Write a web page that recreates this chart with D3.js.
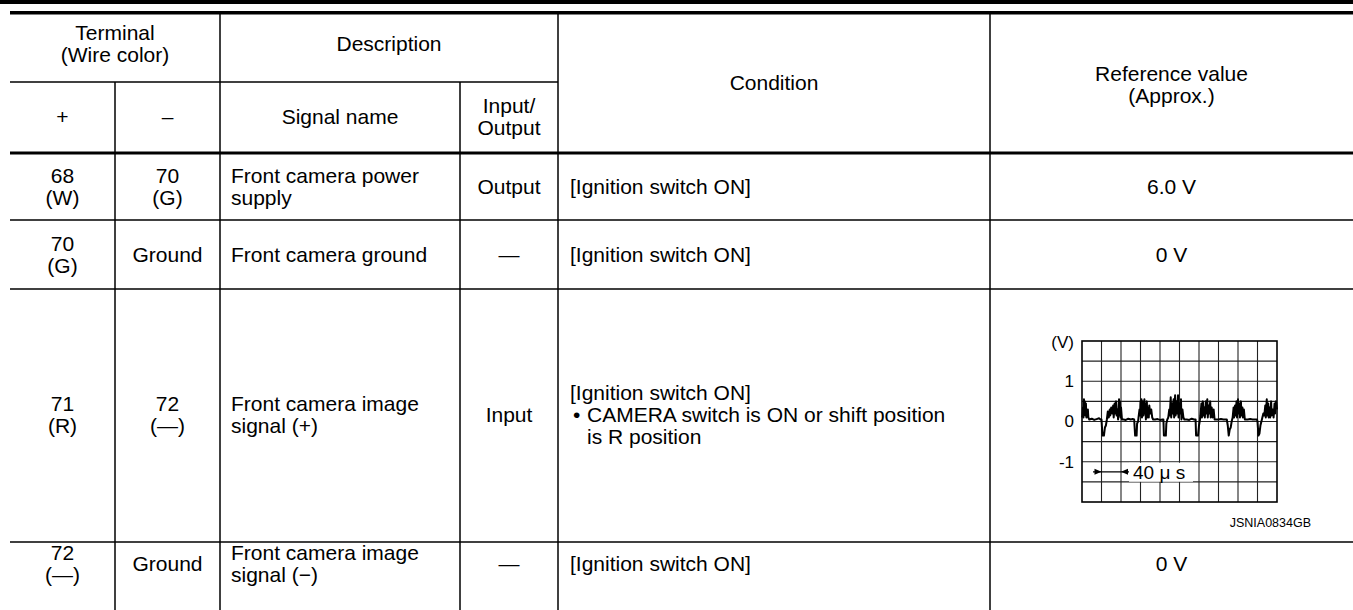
<!DOCTYPE html>
<html>
<head>
<meta charset="utf-8">
<script src="https://cdn.jsdelivr.net/npm/d3@7"></script>
<style>
  html, body { margin: 0; padding: 0; background: #fff; }
  svg { display: block; }
  text { font-family: Arial, "Liberation Sans", Helvetica, sans-serif; fill: #000; }
</style>
</head>
<body>
<svg id="chart" width="1353" height="610"></svg>
<script>
// ---------- table content ----------
const headerTerminal = ["Terminal", "(Wire color)"];
const headerPlus = "+";
const headerMinus = "–";
const headerDescription = "Description";
const headerSignal = "Signal name";
const headerIO = ["Input/", "Output"];
const headerCondition = "Condition";
const headerReference = ["Reference value", "(Approx.)"];

const plusTerminal = [["68", "(W)"], ["70", "(G)"], ["71", "(R)"], ["72", "(—)"]];
const minusTerminal = [["70", "(G)"], ["Ground"], ["72", "(—)"], ["Ground"]];
const signalNames = [["Front camera power", "supply"], ["Front camera ground"], ["Front camera image", "signal (+)"], ["Front camera image", "signal (−)"]];
const ioValues = ["Output", "—", "Input", "—"];
const conditions = [
  ["[Ignition switch ON]"],
  ["[Ignition switch ON]"],
  ["[Ignition switch ON]", "• CAMERA switch is ON or shift position", "is R position"],
  ["[Ignition switch ON]"]
];
const refValues = ["6.0 V", "0 V", null, "0 V"];

// ---------- waveform (time in µs, voltage in V) ----------
const waveT = [0,1,2,3,4,5,6,7,8,9,10,11,12,13,15,20,25,30,35,38,
  40,42,45,47,49,51,52,53,55,57,58,60,62,64,65,67,68,70,71,73,74,76,77,78,79,80,82,
  85,90,95,100,104,107,109,112,113,115,
  116,118,119,120,121,122,123,125,126,128,129,130,131,133,134,136,137,138,140,142,144,146,
  150,155,160,165,167,168,172,173,175,
  177,179,180,182,183,185,186,188,189,191,192,194,195,197,198,200,201,203,204,206,208,210,
  215,220,225,230,233,234,238,240,242,
  243,245,246,248,249,251,252,254,255,257,258,260,261,263,264,266,268,270,272,
  275,280,285,290,295,297,299,301,303,305,307,309,
  311,312,314,315,317,318,320,321,323,324,326,327,329,330,332,334,
  340,345,350,355,359,360,362,364,366,368,
  370,372,374,376,377,379,380,382,383,385,386,388,389,391,393,395,396,398,400];
const waveV = [0.1,0.15,0.35,0.1,0.55,0.2,0.5,0.15,0.45,0.1,0.3,0.15,0.3,0.1,0.05,0.07,0.04,0.06,0.08,0.05,
  0.05,-0.35,-0.35,-0.15,-0.1,0.05,0.15,0.25,0.1,0.3,0.15,0.35,0.2,0.4,0.1,0.45,0.2,0.5,0.15,0.3,0.05,0.55,0.15,0.5,0.1,0.35,0.05,
  0.05,0.04,0.07,0.05,0.06,0.05,-0.35,-0.35,-0.05,0.0,
  0.1,0.3,0.15,0.5,0.2,0.55,0.1,0.5,0.15,0.55,0.2,0.45,0.05,0.5,0.1,0.35,0.1,0.4,0.2,0.3,0.1,0.05,
  0.05,0.06,0.04,0.05,0.05,-0.35,-0.35,-0.05,0.05,
  0.1,0.3,0.15,0.6,0.1,0.45,0.2,0.55,0.1,0.65,0.15,0.5,0.2,0.65,0.1,0.45,0.2,0.55,0.05,0.3,0.1,0.05,
  0.05,0.04,0.07,0.05,0.05,-0.35,-0.35,-0.1,0.05,
  0.15,0.45,0.1,0.5,0.15,0.35,0.1,0.5,0.2,0.55,0.1,0.4,0.2,0.5,0.1,0.35,0.1,0.3,0.05,
  0.05,0.05,0.06,0.05,0.05,0.05,-0.1,-0.35,-0.2,-0.15,0.0,0.1,
  0.35,0.1,0.4,0.15,0.5,0.1,0.55,0.2,0.45,0.1,0.5,0.15,0.35,0.1,0.3,0.05,
  0.05,0.06,0.05,0.05,0.05,0.0,-0.35,-0.3,-0.1,0.0,
  0.1,0.2,0.15,0.4,0.1,0.55,0.15,0.45,0.1,0.35,0.1,0.5,0.15,0.3,0.1,0.45,0.2,0.5,0.3];
const yTicks = [1, 0, -1];
const yLabel = "(V)";
const timeLabel = "40 μ s";
const figureId = "JSNIA0834GB";

// ---------- drawing ----------
const svg = d3.select("#chart");
const W = 1353;
const colX = [10, 115, 220, 460, 558, 990, W];
const rowY = [153, 220, 289, 542, 610];
const FS = 21;
const LH = 22;

const lines = svg.append("g");
function hline(x1, x2, y, w) {
  lines.append("line").attr("x1", x1).attr("x2", x2).attr("y1", y).attr("y2", y)
    .attr("stroke", "#000").attr("stroke-width", w);
}
function vline(x, y1, y2, w) {
  lines.append("line").attr("x1", x).attr("x2", x).attr("y1", y1).attr("y2", y2)
    .attr("stroke", "#000").attr("stroke-width", w);
}
// top rules
svg.append("rect").attr("x", 0).attr("y", 0).attr("width", W).attr("height", 4).attr("fill", "#000");
hline(colX[0], W, 12.75, 3.5);
hline(colX[0], colX[4], 82, 1.5);
hline(colX[0], W, rowY[0], 3);
hline(colX[0], W, rowY[1], 1.5);
hline(colX[0], W, rowY[2], 1.5);
hline(colX[0], W, rowY[3], 1.5);
vline(colX[1], 82, 610, 1.5);
vline(colX[2], 14, 610, 1.5);
vline(colX[3], 82, 610, 1.5);
vline(colX[4], 14, 610, 1.5);
vline(colX[5], 14, 610, 1.5);

const tg = svg.append("g").attr("font-size", FS);
function textLines(arr, x, cy, anchor) {
  const n = arr.length;
  arr.forEach((s, i) => {
    tg.append("text").attr("x", x).attr("y", cy + (i - (n - 1) / 2) * LH)
      .attr("dy", "0.35em").attr("text-anchor", anchor || "middle").text(s);
  });
}
const mid = (a, b) => (a + b) / 2;

// header
textLines(headerTerminal, mid(colX[0], colX[2]), 44);
textLines([headerDescription], mid(colX[2], colX[4]), 44);
textLines([headerPlus], mid(colX[0], colX[1]), 117);
textLines([headerMinus], mid(colX[1], colX[2]), 117);
textLines([headerSignal], mid(colX[2], colX[3]), 117);
textLines(headerIO, mid(colX[3], colX[4]), 117);
textLines([headerCondition], mid(colX[4], colX[5]), 83);
textLines(headerReference, mid(colX[5], W), 85);

// body rows
const rowCenters = [186.5, 254.5, 415, 564];
rowCenters.forEach((cy, r) => {
  textLines(plusTerminal[r], mid(colX[0], colX[1]), cy);
  textLines(minusTerminal[r], mid(colX[1], colX[2]), cy);
  textLines(signalNames[r], colX[2] + 11, cy, "start");
  textLines([ioValues[r]], mid(colX[3], colX[4]), cy);
  const c = conditions[r];
  if (c.length === 1) {
    textLines(c, colX[4] + 12, cy, "start");
  } else {
    const y0 = cy - LH;
    tg.append("text").attr("x", colX[4] + 12).attr("y", y0).attr("dy", "0.35em").text(c[0]);
    tg.append("text").attr("x", colX[4] + 15).attr("y", y0 + LH).attr("dy", "0.35em").text(c[1].slice(0, 1));
    tg.append("text").attr("x", colX[4] + 29).attr("y", y0 + LH).attr("dy", "0.35em").text(c[1].slice(2));
    tg.append("text").attr("x", colX[4] + 29).attr("y", y0 + 2 * LH).attr("dy", "0.35em").text(c[2]);
  }
  if (refValues[r]) textLines([refValues[r]], mid(colX[5], W), cy);
});

// ---------- waveform chart ----------
const x = d3.scaleLinear().domain([0, 400]).range([1082, 1277]);
const y = d3.scaleLinear().domain([-2, 2]).range([502, 341]);
const cg = svg.append("g");
const grid = cg.append("g");
d3.range(40, 400, 40).forEach(t => {
  grid.append("line").attr("x1", x(t)).attr("x2", x(t)).attr("y1", y(2)).attr("y2", y(-2))
    .attr("stroke", "#222").attr("stroke-width", 1.1);
});
d3.range(-1.5, 2, 0.5).forEach(v => {
  grid.append("line").attr("x1", x(0)).attr("x2", x(400)).attr("y1", y(v)).attr("y2", y(v))
    .attr("stroke", "#222").attr("stroke-width", 1.1);
});
// time annotation with white background
cg.append("rect").attr("x", 1129).attr("y", y(-1) + 1).attr("width", 64).attr("height", 19).attr("fill", "#fff");
cg.append("text").attr("x", 1133).attr("y", y(-1.25)).attr("dy", "0.36em")
  .attr("font-size", 19).text(timeLabel);
const ay = y(-1.25);
cg.append("line").attr("x1", 1093).attr("x2", 1129).attr("y1", ay).attr("y2", ay).attr("stroke", "#000").attr("stroke-width", 1.2);
cg.append("path").attr("d", `M${x(40)},${ay} l-7,-3 l0,6 Z`).attr("fill", "#000");
cg.append("path").attr("d", `M${x(80)},${ay} l7,-3 l0,6 Z`).attr("fill", "#000");

cg.append("rect").attr("x", x(0)).attr("y", y(2)).attr("width", x(400) - x(0)).attr("height", y(-2) - y(2))
  .attr("fill", "none").attr("stroke", "#000").attr("stroke-width", 1.6);

const wave = waveT.map((t, i) => [t, waveV[i]]);
cg.append("path").datum(wave)
  .attr("d", d3.line().x(d => x(d[0])).y(d => y(d[1])))
  .attr("fill", "none").attr("stroke", "#000").attr("stroke-width", 2).attr("stroke-linejoin", "round");

const yt = cg.append("g").attr("font-size", 17);
yt.append("text").attr("x", 1074).attr("y", y(2) + 1).attr("dy", "0.35em").attr("text-anchor", "end").text(yLabel);
yTicks.forEach(v => {
  yt.append("text").attr("x", 1074).attr("y", y(v)).attr("dy", "0.35em").attr("text-anchor", "end").text(v);
});
cg.append("text").attr("x", 1311).attr("y", 527).attr("font-size", 12.5).attr("text-anchor", "end").text(figureId);
</script>
</body>
</html>
